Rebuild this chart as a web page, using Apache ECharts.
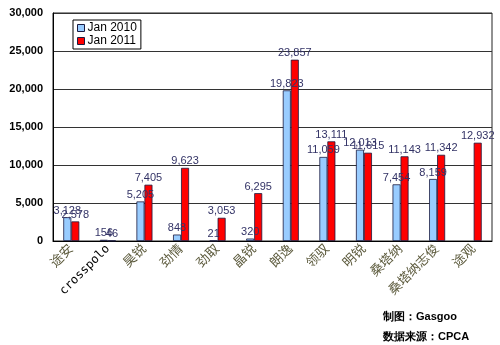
<!DOCTYPE html>
<html>
<head>
<meta charset="utf-8">
<script src="https://cdn.jsdelivr.net/npm/echarts@6/dist/echarts.min.js"></script>
<style>
  html, body { margin: 0; padding: 0; background: #fff; }
  #main { width: 500px; height: 345px; }
</style>
</head>
<body>
<div id="main"></div>
<script>
const categories = ['途安', 'crosspolo', '昊锐', '劲情', '劲取', '晶锐', '朗逸', '领驭', '明锐', '桑塔纳', '桑塔纳志俊', '途观']
const legendNames = ['Jan 2010', 'Jan 2011']
const jan2010 = [3128, 156, 5205, 848, 21, 320, 19823, 11059, 12013, 7454, 8159, null]
const jan2011 = [2578, 46, 7405, 9623, 3053, 6295, 23857, 13111, 11615, 11143, 11342, 12932]
const colors = ['#99CCFF', '#FF0000']

const fmt = v => Number(v).toLocaleString('en-US')

const chart = echarts.init(document.getElementById('main'))
const seriesData = [jan2010, jan2011]
const option = {
  backgroundColor: '#FFFFFF',
  animation: false,
  textStyle: { fontFamily: 'Arial, "Liberation Sans", "Noto Sans CJK SC", sans-serif' },
  grid: { left: 53, right: 8, top: 13, bottom: 104, show: true, borderColor: '#222', borderWidth: 1 },
  legend: {
    data: legendNames,
    orient: 'vertical',
    left: 73,
    top: 20,
    icon: 'rect',
    itemWidth: 7,
    itemHeight: 7,
    itemGap: 1,
    padding: [2, 4, 2, 4],
    borderColor: '#000',
    borderWidth: 1,
    backgroundColor: '#fff',
    itemStyle: { borderColor: '#1a1a40', borderWidth: 1 },
    textStyle: { fontSize: 12, color: '#000', padding: [0, 0, 0, -2] }
  },
  xAxis: {
    type: 'category',
    data: categories,
    axisLine: { lineStyle: { color: '#000' } },
    axisTick: { inside: true, length: 4, lineStyle: { color: '#000' } },
    axisLabel: {
      rotate: 45,
      interval: 0,
      fontSize: 13,
      margin: 6,
      color: '#5c5a3c',
      // crosspolo is drawn wider and in black in the original
      formatter: v => v === 'crosspolo' ? '{mono|' + v + '}' : v,
      rich: {
        mono: { fontFamily: '"DejaVu Sans Mono", monospace', fontSize: 12, color: '#000' }
      }
    }
  },
  yAxis: {
    type: 'value',
    min: 0,
    max: 30000,
    interval: 5000,
    axisLine: { show: true, lineStyle: { color: '#000' } },
    axisTick: { show: false },
    splitLine: { lineStyle: { color: '#333', width: 1 } },
    axisLabel: { fontSize: 11, fontWeight: 'bold', color: '#000', margin: 10, formatter: fmt }
  },
  series: [],
  graphic: [
    { type: 'text', left: 383, top: 311, style: { text: '制图：Gasgoo', fontSize: 11, fontWeight: 'bold', fill: '#000' } },
    { type: 'text', left: 383, top: 331, style: { text: '数据来源：CPCA', fontSize: 11, fontWeight: 'bold', fill: '#000' } }
  ]
}
legendNames.map((name, i) => {
  option.series.push({
    name: name,
    type: 'bar',
    barWidth: 8,
    barGap: '0%',
    itemStyle: { color: colors[i], borderColor: '#1a1a40', borderWidth: 0.8 },
    label: {
      show: true,
      position: 'top',
      distance: 1,
      fontSize: 11,
      color: '#333366',
      formatter: p => fmt(p.value)
    },
    data: seriesData[i]
  })
})
chart.setOption(option)
</script>
</body>
</html>
